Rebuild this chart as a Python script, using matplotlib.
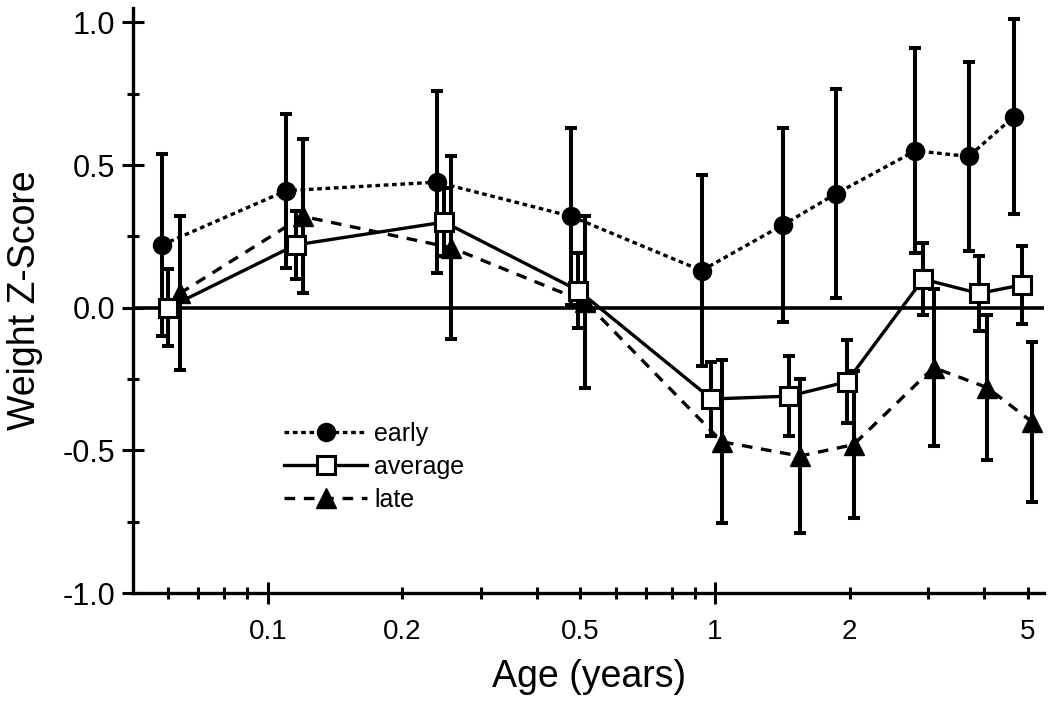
import matplotlib
matplotlib.use('Agg')
import matplotlib.pyplot as plt
from matplotlib.ticker import FixedLocator, FixedFormatter

plt.rcParams['font.family'] = ['Liberation Sans', 'DejaVu Sans']

# early maturers (circles)
early_age = [0.058, 0.110, 0.239, 0.477, 0.933, 1.418, 1.867, 2.805, 3.69, 4.66]
early_z = [0.22, 0.41, 0.44, 0.32, 0.13, 0.29, 0.40, 0.55, 0.53, 0.67]
early_err = [0.32, 0.27, 0.32, 0.31, 0.335, 0.34, 0.365, 0.36, 0.33, 0.34]

# average (squares)
avg_age = [0.060, 0.1155, 0.248, 0.495, 0.982, 1.464, 1.969, 2.918, 3.89, 4.86]
avg_z = [0.0, 0.22, 0.30, 0.06, -0.32, -0.31, -0.26, 0.10, 0.05, 0.08]
avg_err = [0.135, 0.12, 0.12, 0.13, 0.13, 0.14, 0.145, 0.125, 0.13, 0.136]

# late maturers (triangles)
late_age = [0.0636, 0.1198, 0.2575, 0.513, 1.036, 1.547, 2.04, 3.08, 4.06, 5.11]
late_z = [0.05, 0.32, 0.21, 0.02, -0.47, -0.52, -0.48, -0.21, -0.28, -0.40]
late_err = [0.27, 0.27, 0.32, 0.30, 0.285, 0.27, 0.257, 0.275, 0.255, 0.28]

major_x = [0.1, 1]
minor_x = [0.06, 0.07, 0.08, 0.09, 0.2, 0.3, 0.4, 0.5, 0.6, 0.7, 0.8, 0.9, 2, 3, 4, 5]
minor_labels = ['', '', '', '', '0.2', '', '', '0.5', '', '', '', '', '2', '', '', '5']

fig = plt.figure(figsize=(10.5, 7.09), dpi=100)
ax = fig.add_axes([0.1267, 0.1636, 0.868, 0.825])

lw = 2.4
eb = dict(elinewidth=2.9, capsize=4.5, capthick=2.9, ecolor='black')

ax.errorbar(early_age, early_z, yerr=early_err, fmt='none', zorder=2, **eb)
ax.errorbar(avg_age, avg_z, yerr=avg_err, fmt='none', zorder=2, **eb)
ax.errorbar(late_age, late_z, yerr=late_err, fmt='none', zorder=2, **eb)

ax.plot(early_age, early_z, color='black', lw=lw, ls=(0, (1.4, 1.1)),
        marker='o', ms=13, mfc='black', mec='black', label='early', zorder=3)
ax.plot(avg_age, avg_z, color='black', lw=lw, ls='-',
        marker='s', ms=12.5, mfc='white', mec='black', mew=2.2, label='average', zorder=4)
ax.plot(late_age, late_z, color='black', lw=lw, ls=(0, (3.2, 2.6)),
        marker='^', ms=14, mfc='black', mec='black', label='late', zorder=3)

ax.axhline(0, color='black', lw=2.6, zorder=1)

ax.set_xscale('log')
ax.set_xlim(0.05, 5.45)
ax.set_ylim(-1.0, 1.05)

ax.xaxis.set_major_locator(FixedLocator(major_x))
ax.xaxis.set_major_formatter(FixedFormatter(['0.1', '1']))
ax.xaxis.set_minor_locator(FixedLocator(minor_x))
ax.xaxis.set_minor_formatter(FixedFormatter(minor_labels))

ax.set_yticks([-1.0, -0.5, 0.0, 0.5, 1.0])
ax.set_yticklabels(['-1.0', '-0.5', '0.0', '0.5', '1.0'])
ax.set_yticks([-0.75, -0.25, 0.25, 0.75], minor=True)

for s in ['top', 'right']:
    ax.spines[s].set_visible(False)
for s in ['left', 'bottom']:
    ax.spines[s].set_linewidth(2.4)

ax.tick_params(axis='both', which='major', direction='inout', length=16, width=2.2)
ax.tick_params(axis='both', which='minor', direction='inout', length=9, width=2.2)
ax.tick_params(axis='y', which='major', labelsize=22, pad=5)
ax.tick_params(axis='x', which='minor', labelsize=20, pad=14.5)
ax.tick_params(axis='x', which='major', labelsize=20, pad=11)

ax.set_xlabel('Age (years)', fontsize=27, labelpad=10)
ax.set_ylabel('Weight Z-Score', fontsize=27, labelpad=14)

ax.legend(loc='upper left', bbox_to_anchor=(0.155, 0.31), frameon=False,
          fontsize=18, handlelength=3.3, handletextpad=0.3, labelspacing=0.36,
          borderaxespad=0)

fig.savefig('out.png', dpi=100)
